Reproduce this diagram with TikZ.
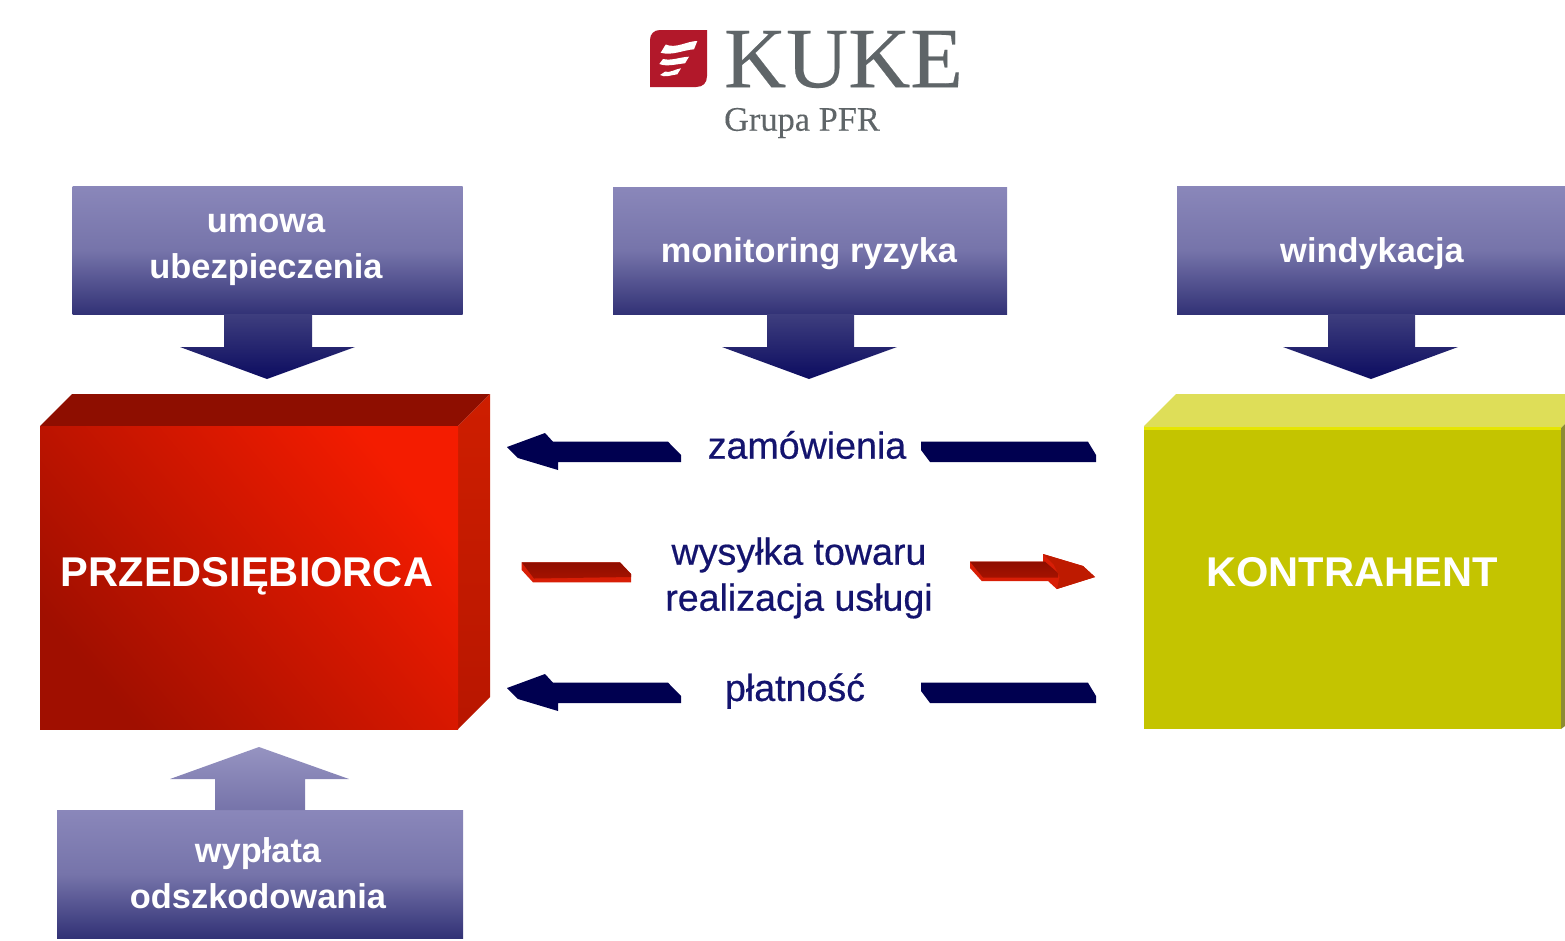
\documentclass[tikz,border=0pt]{standalone}
\usepackage{fontspec}
\setmainfont{Liberation Sans}
\newfontfamily\serifkuke[FakeBold=0.25]{Liberation Serif}
\newfontfamily\labelfont[FakeBold=0.5]{Liberation Sans}
\definecolor{navy}{RGB}{0,0,80}
\definecolor{labelc}{RGB}{20,20,110}
\definecolor{kukegrey}{RGB}{95,101,104}
\definecolor{kukered}{RGB}{178,24,42}
\definecolor{boxtop}{RGB}{138,135,186}
\definecolor{boxmid}{RGB}{118,116,170}
\definecolor{boxbot}{RGB}{50,50,118}
\definecolor{dartop}{RGB}{62,62,126}
\definecolor{darbot}{RGB}{12,12,96}
\definecolor{redface}{RGB}{142,14,0}
\definecolor{redfacelow}{RGB}{165,18,0}
\definecolor{redbright}{RGB}{216,30,6}
\definecolor{redhead}{RGB}{190,26,0}
\definecolor{frontdark}{RGB}{160,15,0}
\definecolor{frontmid}{RGB}{236,28,0}
\definecolor{frontlight}{RGB}{244,28,0}
\definecolor{sidetop}{RGB}{206,30,0}
\definecolor{sidebot}{RGB}{184,22,0}
\definecolor{yfront}{RGB}{196,196,0}
\definecolor{ytop}{RGB}{222,222,88}
\definecolor{ybright}{RGB}{230,230,0}
\definecolor{yside}{RGB}{140,140,50}
\pgfdeclareverticalshading{boxshade}{100bp}{color(0bp)=(boxbot); color(25bp)=(boxbot); color(50bp)=(boxmid); color(75bp)=(boxtop); color(100bp)=(boxtop)}
\tikzset{
 infobox/.style={draw=none,shading=boxshade,inner sep=0pt},
 boxlabel/.style={text=white,align=center,inner sep=0pt,font=\fontsize{25.8}{34.5}\selectfont\bfseries},
 downarrow/.style={draw=none,top color=dartop,bottom color=darbot},
 uparrow/.style={draw=none,top color=boxtop!90!white,bottom color=boxmid},
 flowlabel/.style={text=labelc,align=center,inner sep=0pt,font=\labelfont\fontsize{28.2}{34.5}\selectfont},
 navyshape/.style={fill=navy,draw=none},
 redtopface/.style={draw=none,top color=redface,bottom color=redfacelow},
 boxtext/.style={text=white,inner sep=0pt,font=\fontsize{31.2}{36}\selectfont\bfseries},
}
\begin{document}
\begin{tikzpicture}[x=0.75pt,y=-0.75pt]
\useasboundingbox (0,0) rectangle (1565,940);
% logo
\fill[kukered] (660,30) -- (707,30) -- (707,76) .. controls (707,83) and (703,87) .. (696,87) -- (650,87) -- (650,40) .. controls (650,34) and (654,30) .. (660,30) -- cycle;
\fill[white] (665.7,44.5) .. controls (676,49) and (687,41) .. (697.3,41) -- (694,49.3) .. controls (683,50) and (672,56) .. (660.7,52.7) -- cycle;
\fill[white] (663,59) .. controls (672,61) and (680,57) .. (689,56.7) -- (685,63.3) .. controls (677,64) and (667,67) .. (659.3,64) -- cycle;
\fill[white] (665,71.7) .. controls (671,73) and (675,69) .. (681,68.3) -- (677.3,74.3) .. controls (671,75) and (665,78) .. (660,75) -- cycle;
\node[inner sep=0pt,text=kukegrey,font=\serifkuke\fontsize{64.5}{70}\selectfont] (kuke) at (843.5,59.5) {KUKE};
\node[inner sep=0pt,text=kukegrey,font=\serifkuke\fontsize{25.8}{30}\selectfont] (grupa) at (802,123) {Grupa PFR};
% top boxes
\node[infobox,minimum width=292.5pt,minimum height=96pt] (umowa) at (267.5,250) {};
\node[infobox,minimum width=295.5pt,minimum height=95.25pt] (monit) at (810,250.5) {};
\node[infobox,minimum width=291pt,minimum height=96pt] (wind) at (1371,250) {};
\node[infobox,minimum width=304.5pt,minimum height=96pt] (wyplata) at (260,874) {};
\node[boxlabel] (tumowa) at (266,250) {umowa\\ubezpieczenia};
\node[boxlabel] (tmonit) at (809,253.5) {monitoring ryzyka};
\node[boxlabel] (twind) at (1372,253.5) {windykacja};
\node[boxlabel] (twypl) at (258,873) {wypłata\\odszkodowania};
% block arrows
\path[downarrow] (224,314) -- (312,314) -- (312,347) -- (355,347) -- (267,379) -- (180,347) -- (224,347) -- cycle;
\path[downarrow] (767,314) -- (854,314) -- (854,347) -- (897,347) -- (809,379) -- (722,347) -- (767,347) -- cycle;
\path[downarrow] (1328,314) -- (1415,314) -- (1415,347) -- (1458,347) -- (1371,379) -- (1283,347) -- (1328,347) -- cycle;
\path[uparrow] (259,747) -- (349,779) -- (305,779) -- (305,810) -- (215,810) -- (215,779) -- (170,779) -- cycle;
% red block
\fill[redface] (40,426) -- (72,394) -- (490,394) -- (458,426) -- cycle;
\path[draw=none,top color=sidetop,bottom color=sidebot] (458,426) -- (490,394) -- (490,697) -- (458,729) -- cycle;
\path[draw=none,shading=axis,bottom color=frontdark,middle color=frontmid,top color=frontlight,shading angle=-50] (40,426) rectangle (458,729);
% yellow block
\fill[ytop] (1144,426) -- (1176,394) -- (1565,394) -- (1565,424) -- (1561,428) -- (1144,428) -- cycle;
\fill[yside] (1561,428) -- (1565,424) -- (1565,726) -- (1561,729) -- cycle;
\fill[yfront] (1144,428) rectangle (1561,729);
\fill[ybright] (1144,427) rectangle (1561,430);
\node[boxtext] (przed) at (247,576) {PRZEDSIĘBIORCA};
\node[boxtext] (kontr) at (1352,572) {KONTRAHENT};
% flow arrows
\path[navyshape] (507,447) -- (545,433) -- (553,441.7) -- (668,441.7) -- (681,455) -- (681,462) -- (558,462) -- (558,470) -- (518,458) -- cycle;
\path[navyshape] (921,441.7) -- (1088,441.7) -- (1096,455) -- (1096,462) -- (930,462) -- (921,450) -- cycle;
\path[navyshape] (507,688) -- (545,674) -- (553,682.7) -- (668,682.7) -- (681,696) -- (681,703) -- (558,703) -- (558,711) -- (518,699) -- cycle;
\path[navyshape] (921,682.7) -- (1088,682.7) -- (1096,696) -- (1096,703) -- (930,703) -- (921,691) -- cycle;
\fill[redbright] (521.7,562.3) -- (620,562.3) -- (631,574) -- (631,582.3) -- (533,582.3) -- (521.7,570) -- cycle;
\path[redtopface] (521.7,562.3) -- (620,562.3) -- (631,574) -- (631,577) -- (534,578.5) -- cycle;
\fill[redbright] (970,561.7) -- (1043,561.7) -- (1043,554) -- (1083,566) -- (1095,577) -- (1056.7,589) -- (1048,581) -- (981.7,581) -- (970,568) -- cycle;
\path[redtopface] (970,561.7) -- (1045,561.7) -- (1058,573) -- (1058,577.5) -- (983,577.5) -- cycle;
\fill[redhead] (1043,554) -- (1083,566) -- (1095,577) -- (1057,589) -- (1059.5,577) -- (1054,565) -- cycle;
% labels
\node[flowlabel] (zam) at (807,445) {zamówienia};
\node[flowlabel] (wys) at (799,578) {wysyłka towaru\\realizacja usługi};
\node[flowlabel] (plat) at (795,691) {płatność};
\end{tikzpicture}
\end{document}
